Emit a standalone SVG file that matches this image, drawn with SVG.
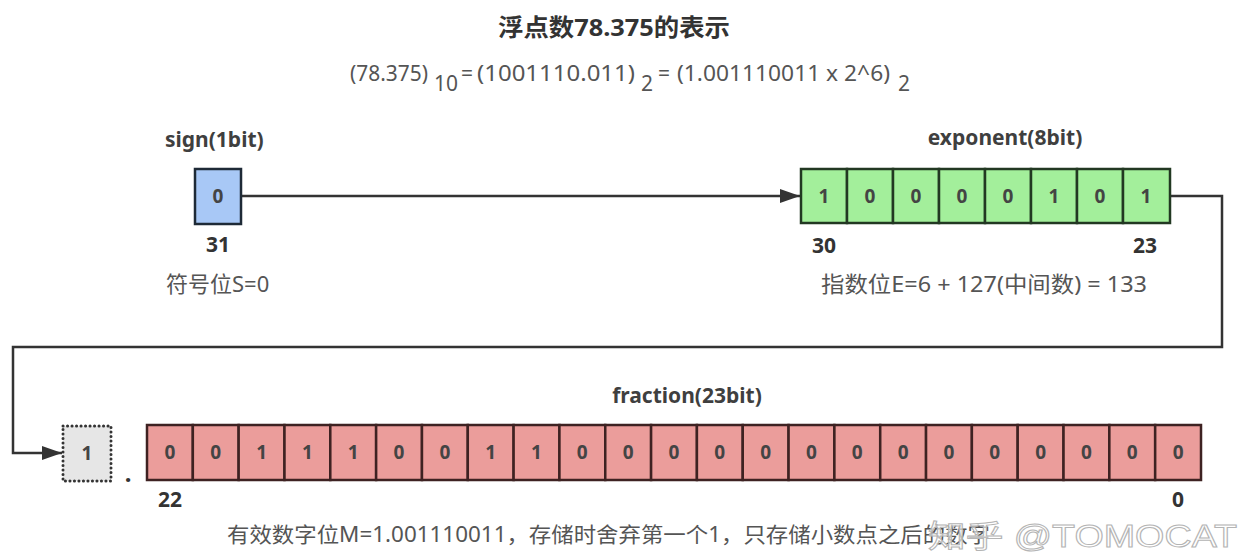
<svg xmlns="http://www.w3.org/2000/svg" width="1248" height="554" viewBox="0 0 1248 554">
<defs>
<style>
text{font-family:"Noto Sans","Noto Sans CJK SC",sans-serif;}
.title{font-size:24px;font-weight:bold;fill:#333;}
.formula{font-size:21px;fill:#555;}
.label{font-size:21px;font-weight:bold;fill:#3f3f3f;}
.idx{font-size:21px;font-weight:bold;fill:#333;}
.desc{font-size:22px;fill:#555;}
.bit{font-size:19px;font-weight:bold;fill:#444;text-anchor:middle;}
.sign{fill:#a8c8f6;stroke:#1e2a36;stroke-width:2.5;}
.exp{fill:#a3ef9b;stroke:#223822;stroke-width:2.5;}
.frac{fill:#eb9d9b;stroke:#3e2222;stroke-width:2.5;}
.hidden{fill:#e6e6e6;stroke:#333;stroke-width:3;stroke-dasharray:0.1 4.4;stroke-linecap:round;}
.conn{fill:none;stroke:#333;stroke-width:2.5;}
.wm{font-family:"Liberation Sans","Noto Sans CJK SC",sans-serif;font-size:31px;fill:#ffffff;fill-opacity:0.65;stroke:#b4b4b4;stroke-width:1;}
</style>
<marker id="arrow" markerUnits="userSpaceOnUse" markerWidth="20" markerHeight="14" refX="20" refY="7" orient="auto">
<path d="M0,0 L20,7 L0,14 z" fill="#333"/>
</marker>
</defs>
<rect width="1248" height="554" fill="#ffffff"/>

<g id="title">
<text class="title" x="614" y="36" text-anchor="middle" textLength="232" lengthAdjust="spacingAndGlyphs">浮点数78.375的表示</text>
</g>
<g id="formula" class="formula">
<text x="350" y="81" textLength="78" lengthAdjust="spacingAndGlyphs">(78.375)</text>
<text x="434" y="91">10</text>
<text x="461" y="81">=</text>
<text x="477" y="81" textLength="158" lengthAdjust="spacingAndGlyphs">(1001110.011)</text>
<text x="641" y="91">2</text>
<text x="658" y="81">=</text>
<text x="677" y="81" textLength="213" lengthAdjust="spacingAndGlyphs">(1.001110011 x 2^6)</text>
<text x="898" y="91">2</text>
</g>

<g id="connectors">
<path class="conn" d="M241,196 H800" marker-end="url(#arrow)"/>
<path class="conn" d="M1170,196 H1222 V347 H13 V453 H62" marker-end="url(#arrow)"/>
</g>

<g id="sign">
<text class="label" x="165" y="147">sign(1bit)</text>
<rect class="sign" x="195" y="169" width="46" height="55"/>
<text class="bit" x="218" y="203">0</text>
<text class="idx" x="218" y="252" text-anchor="middle">31</text>
<text class="desc" x="166" y="292">符号位S=0</text>
</g>

<g id="exponent">
<text class="label" x="1005" y="145" text-anchor="middle">exponent(8bit)</text>
<rect class="exp" x="801" y="169" width="46" height="54"/>
<rect class="exp" x="847" y="169" width="46" height="54"/>
<rect class="exp" x="893" y="169" width="46" height="54"/>
<rect class="exp" x="939" y="169" width="46" height="54"/>
<rect class="exp" x="985" y="169" width="46" height="54"/>
<rect class="exp" x="1031" y="169" width="46" height="54"/>
<rect class="exp" x="1077" y="169" width="46" height="54"/>
<rect class="exp" x="1123" y="169" width="47" height="54"/>
<text class="bit" x="824" y="203">1</text>
<text class="bit" x="870" y="203">0</text>
<text class="bit" x="916" y="203">0</text>
<text class="bit" x="962" y="203">0</text>
<text class="bit" x="1008" y="203">0</text>
<text class="bit" x="1054" y="203">1</text>
<text class="bit" x="1100" y="203">0</text>
<text class="bit" x="1146" y="203">1</text>
<text class="idx" x="812" y="253">30</text>
<text class="idx" x="1157" y="253" text-anchor="end">23</text>
<text class="desc" x="821" y="292" textLength="326" lengthAdjust="spacingAndGlyphs">指数位E=6 + 127(中间数) = 133</text>
</g>

<g id="hidden-bit">
<rect class="hidden" x="63" y="426" width="48" height="55"/>
<text class="bit" x="87" y="460">1</text>
<text x="128" y="482" text-anchor="middle" style="font-size:24px;font-weight:bold;fill:#333;">.</text>
</g>

<g id="fraction">
<text class="label" x="687" y="403" text-anchor="middle">fraction(23bit)</text>
<rect class="frac" x="147" y="425" width="45.83" height="55"/>
<rect class="frac" x="192.83" y="425" width="45.83" height="55"/>
<rect class="frac" x="238.65" y="425" width="45.83" height="55"/>
<rect class="frac" x="284.48" y="425" width="45.83" height="55"/>
<rect class="frac" x="330.30" y="425" width="45.83" height="55"/>
<rect class="frac" x="376.13" y="425" width="45.83" height="55"/>
<rect class="frac" x="421.96" y="425" width="45.83" height="55"/>
<rect class="frac" x="467.78" y="425" width="45.83" height="55"/>
<rect class="frac" x="513.61" y="425" width="45.83" height="55"/>
<rect class="frac" x="559.43" y="425" width="45.83" height="55"/>
<rect class="frac" x="605.26" y="425" width="45.83" height="55"/>
<rect class="frac" x="651.09" y="425" width="45.83" height="55"/>
<rect class="frac" x="696.91" y="425" width="45.83" height="55"/>
<rect class="frac" x="742.74" y="425" width="45.83" height="55"/>
<rect class="frac" x="788.57" y="425" width="45.83" height="55"/>
<rect class="frac" x="834.39" y="425" width="45.83" height="55"/>
<rect class="frac" x="880.22" y="425" width="45.83" height="55"/>
<rect class="frac" x="926.04" y="425" width="45.83" height="55"/>
<rect class="frac" x="971.87" y="425" width="45.83" height="55"/>
<rect class="frac" x="1017.70" y="425" width="45.83" height="55"/>
<rect class="frac" x="1063.52" y="425" width="45.83" height="55"/>
<rect class="frac" x="1109.35" y="425" width="45.83" height="55"/>
<rect class="frac" x="1155.17" y="425" width="45.83" height="55"/>
<text class="bit" x="169.9" y="459">0</text>
<text class="bit" x="215.7" y="459">0</text>
<text class="bit" x="261.6" y="459">1</text>
<text class="bit" x="307.4" y="459">1</text>
<text class="bit" x="353.2" y="459">1</text>
<text class="bit" x="399.0" y="459">0</text>
<text class="bit" x="444.9" y="459">0</text>
<text class="bit" x="490.7" y="459">1</text>
<text class="bit" x="536.5" y="459">1</text>
<text class="bit" x="582.3" y="459">0</text>
<text class="bit" x="628.2" y="459">0</text>
<text class="bit" x="674.0" y="459">0</text>
<text class="bit" x="719.8" y="459">0</text>
<text class="bit" x="765.7" y="459">0</text>
<text class="bit" x="811.5" y="459">0</text>
<text class="bit" x="857.3" y="459">0</text>
<text class="bit" x="903.1" y="459">0</text>
<text class="bit" x="949.0" y="459">0</text>
<text class="bit" x="994.8" y="459">0</text>
<text class="bit" x="1040.6" y="459">0</text>
<text class="bit" x="1086.4" y="459">0</text>
<text class="bit" x="1132.3" y="459">0</text>
<text class="bit" x="1178.1" y="459">0</text>
<text class="idx" x="158" y="507">22</text>
<text class="idx" x="1178" y="507" text-anchor="middle">0</text>
<text class="desc" x="227" y="542" style="font-size:21px" textLength="763" lengthAdjust="spacingAndGlyphs">有效数字位M=1.001110011，存储时舍弃第一个1，只存储小数点之后的数字</text>
</g>

<g id="watermark">
<text class="wm" x="928" y="547" textLength="309" lengthAdjust="spacingAndGlyphs">知乎 @TOMOCAT</text>
</g>
</svg>
